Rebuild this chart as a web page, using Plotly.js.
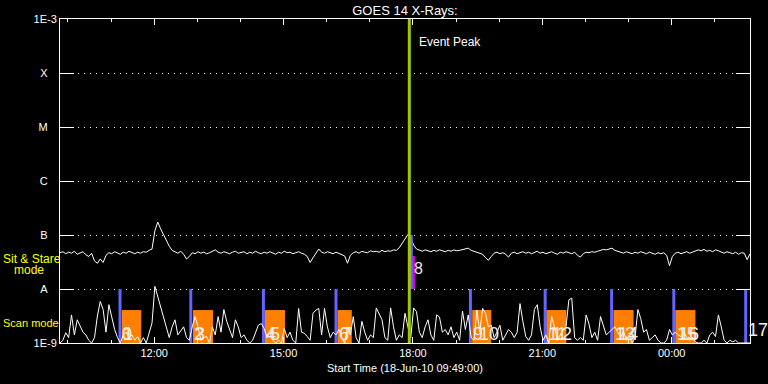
<!DOCTYPE html>
<html><head><meta charset="utf-8">
<script src="https://cdn.plot.ly/plotly-3.0.1.min.js"></script>
<style>html,body{margin:0;padding:0;background:#000;}#chart{width:768px;height:384px;}</style>
</head><body><div id="chart"></div>
<script>
// ---- data ----
const startTime = '2010-06-18 09:49:00';
const endTime = '2010-06-19 01:49:00';
const sampleMinutes = 4;
// GOES 14 long-channel flux, in units of 1e-9 W/m^2, one sample every 4 minutes from start
const goesFlux_nW = [
47,49,45,48,46,50,44,47,49,43,
40,46,33,30,36,31,42,47,45,49,
47,44,48,46,50,47,45,48,46,49,
48,52,55,120,174,130,100,80,62,52,
48,46,50,44,36,40,47,45,49,46,
48,45,47,50,53,48,46,49,47,45,
48,50,46,47,49,45,48,46,50,47,
45,48,46,49,47,44,48,46,50,47,
48,45,47,49,46,44,40,31,38,47,
55,48,46,49,47,45,48,46,44,41,
30,42,47,49,46,50,48,47,51,49,
50,48,52,49,51,50,53,52,58,70,
80,102,88,65,55,52,50,53,51,49,
52,50,53,51,49,52,50,53,51,52,
54,56,57,52,50,48,46,44,38,34,
40,46,48,45,47,44,39,46,48,45,
47,49,46,48,45,47,50,46,48,45,
47,49,46,44,48,46,49,47,45,48,
42,39,45,48,47,49,48,50,52,54,
53,55,57,52,50,48,46,49,47,45,
48,46,49,47,45,48,46,44,47,45,
47,42,27,40,46,48,45,47,49,46,
48,50,53,51,54,50,52,49,53,51,
48,46,49,47,45,48,44,47,46,35,
45];
// scan-mode activity signal (relative units, 1 = one decade of the lower panel)
const scanSignal = [
0,0.05,0.19,0.1,0.52,0.15,0.43,0.3,0.2,0.15,
0.05,0,0.1,0.5,0.77,0.62,0.2,0.71,0.45,0.25,
0.1,0,0.15,0.2,0.1,0.15,0.05,0.12,0,0.1,
0,0.2,0.37,1.05,0.86,0.68,0.49,0.25,0.1,0.3,
0.43,0.15,0.22,0.3,0.1,0.05,0.3,0.49,0.3,0.05,
0.1,0.12,0,0.3,0.15,0.49,0.2,0.62,0.4,0.25,
0.1,0.43,0.3,0.1,0.15,0.05,0,0.05,0.2,0.33,
0.36,0.27,0.1,0.2,0.05,0,0.05,0,0.27,0.1,
0.2,0.05,0,0.64,0.2,0.18,0.12,0.05,0.55,0.61,
0.64,0.15,0.64,0.3,0.1,0.2,0.15,0.25,0.1,0,
0.3,0.15,0.49,0.1,0,0.4,0.2,0.05,0.15,0.1,
0.65,0.55,0.43,0.1,0.05,0.65,0.3,0.05,0.15,0.1,
0.55,0.3,0.1,0.65,0.58,0.2,0.1,0.3,0.43,0.15,
0.05,0.52,0.48,0.2,0.25,0.15,0.3,0.1,0.2,0.05,
0.59,0.25,0.52,0.1,0.05,0.61,0.2,0.64,0.55,0.3,
0.33,0.1,0.2,0.33,0.05,0.15,0.25,0.2,0.1,0.2,
0.73,0.4,0.12,0.05,0.15,0.62,0.71,0.3,0.05,0.15,
0,0.49,0.3,0.05,0.15,0.25,0.3,0.8,0.83,0.1,
0.05,0.1,0.05,0.52,0.35,0.1,0.2,0.05,0.49,0.3,
0.15,0.2,0.25,0.3,0.2,0.1,0.22,0.05,0.15,0,
0.1,0.62,0.45,0.2,0.25,0.05,0.1,0.15,0.05,0,
0,0.05,0.25,0.15,0.2,0.15,0.12,0.2,0.1,0.05,
0.1,0.02,0,0,0.05,0,0.15,0.2,0.12,0.52,
0.3,0.05,0,0.05,0.02,0.05,0,0,0,0,
0];
const yTickVals = [1e-9,1e-8,1e-7,1e-6,1e-5,1e-4,1e-3];
const yTickText = ['1E-9','A','B','C','M','X','1E-3'];
const xTickVals = ['2010-06-18 12:00:00','2010-06-18 15:00:00','2010-06-18 18:00:00','2010-06-18 21:00:00','2010-06-19 00:00:00'];
const xTickText = ['12:00','15:00','18:00','21:00','00:00'];
const scanMarkTimes = ['2010-06-18 11:12:30','2010-06-18 12:51:00','2010-06-18 14:32:00','2010-06-18 16:13:00',
  '2010-06-18 19:20:00','2010-06-18 21:04:00','2010-06-18 22:36:30','2010-06-19 00:03:00','2010-06-19 01:43:00'];
const scanBoxStart = ['2010-06-18 11:15:00','2010-06-18 12:54:00','2010-06-18 14:34:00','2010-06-18 16:15:00',
  '2010-06-18 19:22:30','2010-06-18 21:05:30','2010-06-18 22:39:00','2010-06-19 00:05:00'];
const scanBoxEnd = ['2010-06-18 11:42:00','2010-06-18 13:22:00','2010-06-18 15:02:00','2010-06-18 16:35:00',
  '2010-06-18 19:49:00','2010-06-18 21:33:30','2010-06-18 23:07:00','2010-06-19 00:33:00'];
const scanBoxLevel = 0.61;
const eventPeakTime = '2010-06-18 17:55:00';
const sitStareMarkTime = '2010-06-18 17:57:50';
const sitStareBoxStart = '2010-06-18 17:58:40';
const sitStareBoxEnd = '2010-06-18 18:02:50';
const sitStareLevel = 0.61;
const sitStareEvent = {num: '8', time: '2010-06-18 17:59:00'};
const eventNums = ['0','1','2','3','4','5','6','7','9','10','11','12','13','14','15','16','17'];
const eventTimes = ['2010-06-18 11:13:00','2010-06-18 11:14:00','2010-06-18 12:52:00','2010-06-18 12:54:00',
  '2010-06-18 14:33:00','2010-06-18 14:38:00','2010-06-18 16:14:00','2010-06-18 16:19:00',
  '2010-06-18 19:21:00','2010-06-18 19:29:00','2010-06-18 21:05:00','2010-06-18 21:11:00',
  '2010-06-18 22:38:00','2010-06-18 22:42:00','2010-06-19 00:04:00','2010-06-19 00:08:00','2010-06-19 01:44:00'];

// ---- helpers ----
function toMs(s){ return Date.parse(s.replace(' ','T')+'Z'); }
function fmt(ms){ return new Date(ms).toISOString().replace('T',' ').slice(0,19); }
const t0 = toMs(startTime);
const sampleTimes = goesFlux_nW.map((_, i) => fmt(t0 + i*sampleMinutes*60000));
const goesFlux = goesFlux_nW.map(v => v*1e-9);

const blueX = [], blueY = [];
scanMarkTimes.forEach(t => { blueX.push(t,t,null); blueY.push(0,1,null); });

const traces = [
  {type:'scatter', mode:'lines', x: sampleTimes, y: goesFlux, line:{color:'#ffffff', width:1}, xaxis:'x', yaxis:'y'},
  {type:'bar', x: scanBoxStart, y: scanBoxStart.map(()=>scanBoxLevel), base: 0,
   width: scanBoxStart.map((s,i)=>toMs(scanBoxEnd[i])-toMs(s)), offset: 0,
   marker:{color:'#ff8000', line:{width:0}}, yaxis:'y2', hoverinfo:'skip'},
  {type:'scatter', mode:'lines', x: blueX, y: blueY, line:{color:'#6464ff', width:3}, yaxis:'y2'},
  {type:'scatter', mode:'lines', x:[sitStareMarkTime, sitStareMarkTime], y:[1,2], line:{color:'#6464ff', width:3}, yaxis:'y2'},
  {type:'bar', x:[sitStareBoxStart], y:[sitStareLevel], base:1, offset:0,
   width:[toMs(sitStareBoxEnd)-toMs(sitStareBoxStart)], marker:{color:'#dd00dd', line:{width:0}}, yaxis:'y2'},
  {type:'scatter', mode:'lines', x: sampleTimes, y: scanSignal, line:{color:'#ffffff', width:1}, yaxis:'y2'},
  {type:'scatter', mode:'lines', x:[eventPeakTime, eventPeakTime], y:[0,6], line:{color:'#a0c800', width:3}, yaxis:'y2'},
];

const numFont = {family:'Liberation Sans Narrow, Liberation Sans, sans-serif', size:18, color:'#f0f0f0'};
const annotations = [];
eventNums.forEach((n,i) => {
  const last = i === eventNums.length-1;
  annotations.push({xref:'x', yref:'y2', x: eventTimes[i], y: last ? 0.24 : 0.16, text: n,
    showarrow:false, xanchor:'left', yanchor:'middle', font: numFont});
});
annotations.push({xref:'x', yref:'y2', x: sitStareEvent.time, y: 1.38, text: sitStareEvent.num,
  showarrow:false, xanchor:'left', yanchor:'middle', font:{...numFont, size:16}});
annotations.push({xref:'x', yref:'paper', x: eventPeakTime, xshift: 8, y: 0.9275, text:'Event Peak',
  showarrow:false, xanchor:'left', yanchor:'middle', font:{family:'Liberation Sans, sans-serif', size:12, color:'#ffffff'}});
const yel = {family:'Liberation Sans, sans-serif', size:12, color:'#ffff00'};
annotations.push({xref:'paper', yref:'paper', x:-0.0855, y:0.2608, text:'Sit &amp; Stare', showarrow:false, xanchor:'left', yanchor:'middle', font:yel});
annotations.push({xref:'paper', yref:'paper', x:-0.0695, y:0.2238, text:'mode', showarrow:false, xanchor:'left', yanchor:'middle', font:yel});
annotations.push({xref:'paper', yref:'paper', x:-0.0855, y:0.0602, text:'Scan mode', showarrow:false, xanchor:'left', yanchor:'middle', font:{...yel, size:11}});

const tickFont = {family:'Liberation Sans, sans-serif', size:11, color:'#ffffff'};
const layout = {
  width:768, height:384,
  margin:{l:60, r:18, t:19, b:41, pad:0},
  paper_bgcolor:'#000000', plot_bgcolor:'#000000',
  showlegend:false, barmode:'overlay',
  title:{text:'GOES 14 X-Rays:', x:0.5, xref:'paper', xanchor:'center', y:0.974, yanchor:'middle',
    font:{family:'Liberation Sans, sans-serif', size:13, color:'#ffffff'}},
  xaxis:{type:'date', range:[startTime, endTime], tickmode:'array', tickvals:xTickVals, ticktext:xTickText,
    ticks:'inside', ticklen:6, tickcolor:'#ffffff', tickwidth:1,
    minor:{tickmode:'linear', dtick:3600000, tick0:'2010-06-18 00:00:00', ticks:'inside', ticklen:3, tickcolor:'#ffffff', showgrid:false},
    showline:true, linecolor:'#ffffff', linewidth:1, mirror:'ticks', showgrid:false, zeroline:false,
    tickfont:tickFont,
    title:{text:'Start Time (18-Jun-10 09:49:00)', font:tickFont, standoff:6}},
  yaxis:{type:'log', range:[-9,-3], tickmode:'array', tickvals:yTickVals,
    ticktext: yTickText.map(t => t.length === 1 ? t + '\u00a0\u00a0\u00a0' : t),
    ticks:'inside', ticklen:14, tickcolor:'#ffffff', tickwidth:1,
    showline:true, linecolor:'#ffffff', linewidth:1, mirror:'ticks',
    showgrid:true, gridcolor:'#ffffff', gridwidth:1, griddash:'1px,5px', zeroline:false,
    tickfont:tickFont},
  yaxis2:{overlaying:'y', range:[0,6], visible:false, fixedrange:true},
  annotations: annotations
};
Plotly.newPlot('chart', traces, layout, {displayModeBar:false, staticPlot:true});
</script>
</body></html>
